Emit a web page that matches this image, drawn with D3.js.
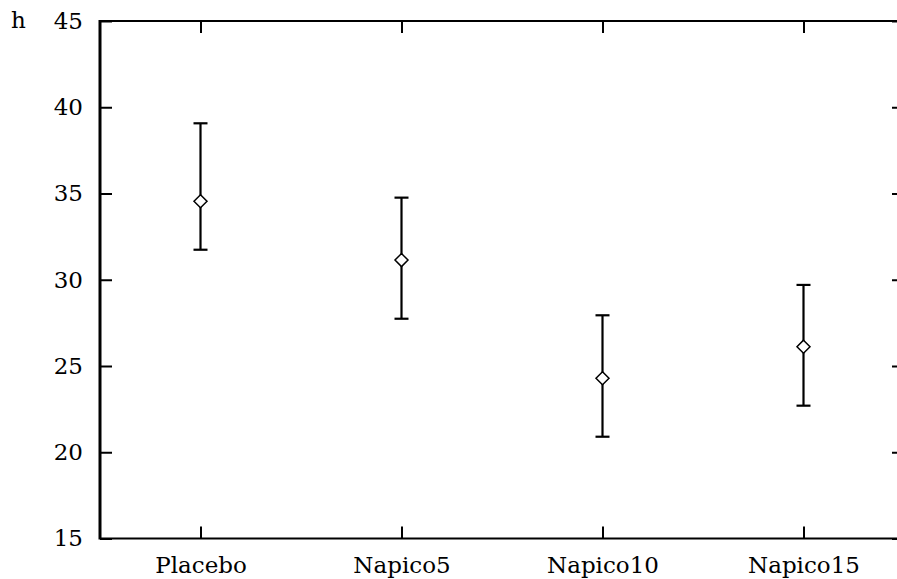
<!DOCTYPE html>
<html>
<head>
<meta charset="utf-8">
<script src="https://cdn.jsdelivr.net/npm/d3@7"></script>
<style>
  html, body { margin: 0; padding: 0; background: #fff; }
  svg { display: block; }
</style>
</head>
<body>
<svg id="chart" width="897" height="579"></svg>
<script>
const categories = ["Placebo", "Napico5", "Napico10", "Napico15"];
const means = [34.55, 31.14, 24.29, 26.12];
const upper = [39.07, 34.76, 27.94, 29.70];
const lower = [31.74, 27.74, 20.90, 22.70];
const yTicks = [15, 20, 25, 30, 35, 40, 45];
const yLabel = "h";

const FONT = "'DejaVu Serif', serif";
const FSIZE = "23px";
const svg = d3.select("#chart");
const pLeft = 100, pRight = 904, pTop = 21, pBottom = 538.5;

const x = d3.scalePoint().domain(categories).range([pLeft, pRight]).padding(0.5);
const y = d3.scaleLinear().domain([15, 45]).range([pBottom, pTop]);

function styleText(sel) {
  sel.attr("font-family", null).attr("font-size", null)
    .style("font-family", FONT).style("font-size", FSIZE).style("fill", "#000");
}

// frame
svg.append("line").attr("x1", pLeft).attr("x2", pRight).attr("y1", pTop).attr("y2", pTop)
  .attr("stroke", "#000").attr("stroke-width", 2);
svg.append("line").attr("x1", pLeft).attr("x2", pRight).attr("y1", pBottom).attr("y2", pBottom)
  .attr("stroke", "#000").attr("stroke-width", 2);
svg.append("line").attr("x1", pLeft).attr("x2", pLeft).attr("y1", pTop - 1).attr("y2", pBottom + 1)
  .attr("stroke", "#000").attr("stroke-width", 3);
svg.append("line").attr("x1", pRight).attr("x2", pRight).attr("y1", pTop).attr("y2", pBottom)
  .attr("stroke", "#000").attr("stroke-width", 2);

// left axis
const gl = svg.append("g").attr("transform", `translate(${pLeft},0)`)
  .call(d3.axisLeft(y).tickValues(yTicks).tickSizeInner(-12).tickSizeOuter(0).tickPadding(17));
gl.select(".domain").remove();
gl.selectAll(".tick line").attr("stroke-width", 2);
gl.attr("font-family", null).attr("font-size", null);
styleText(gl.selectAll("text"));

// right axis ticks
const gr = svg.append("g").attr("transform", `translate(${pRight},0)`)
  .call(d3.axisRight(y).tickValues(yTicks).tickSizeInner(-12).tickSizeOuter(0).tickFormat(""));
gr.select(".domain").remove();
gr.selectAll(".tick line").attr("stroke-width", 2);

// bottom axis
const gb = svg.append("g").attr("transform", `translate(0,${pBottom})`)
  .call(d3.axisBottom(x).tickSizeInner(-12).tickSizeOuter(0).tickPadding(18));
gb.select(".domain").remove();
gb.selectAll(".tick line").attr("stroke-width", 2);
gb.attr("font-family", null).attr("font-size", null);
styleText(gb.selectAll("text"));

// top axis ticks
const gt = svg.append("g").attr("transform", `translate(0,${pTop})`)
  .call(d3.axisTop(x).tickSizeInner(-12).tickSizeOuter(0).tickFormat(""));
gt.select(".domain").remove();
gt.selectAll(".tick line").attr("stroke-width", 2);

// y label
styleText(svg.append("text").attr("x", 11).attr("y", y(45)).attr("dy", "0.32em").text(yLabel));

// error bars
const data = categories.map((c, i) => ({ c, m: means[i], hi: upper[i], lo: lower[i] }));
const g = svg.append("g");
const capW = 7;
g.selectAll(".bar").data(data).join("line")
  .attr("x1", d => x(d.c)).attr("x2", d => x(d.c))
  .attr("y1", d => y(d.hi)).attr("y2", d => y(d.lo))
  .attr("stroke", "#000").attr("stroke-width", 2.2);
g.selectAll(".capt").data(data).join("line")
  .attr("x1", d => x(d.c) - capW).attr("x2", d => x(d.c) + capW)
  .attr("y1", d => y(d.hi)).attr("y2", d => y(d.hi))
  .attr("stroke", "#000").attr("stroke-width", 2.2);
g.selectAll(".capb").data(data).join("line")
  .attr("x1", d => x(d.c) - capW).attr("x2", d => x(d.c) + capW)
  .attr("y1", d => y(d.lo)).attr("y2", d => y(d.lo))
  .attr("stroke", "#000").attr("stroke-width", 2.2);
const r = 6.5;
g.selectAll(".pt").data(data).join("path")
  .attr("d", d => {
    const cx = x(d.c), cy = y(d.m);
    return `M${cx},${cy - r}L${cx + r},${cy}L${cx},${cy + r}L${cx - r},${cy}Z`;
  })
  .attr("fill", "#fff").attr("stroke", "#000").attr("stroke-width", 1.5);
</script>
</body>
</html>
